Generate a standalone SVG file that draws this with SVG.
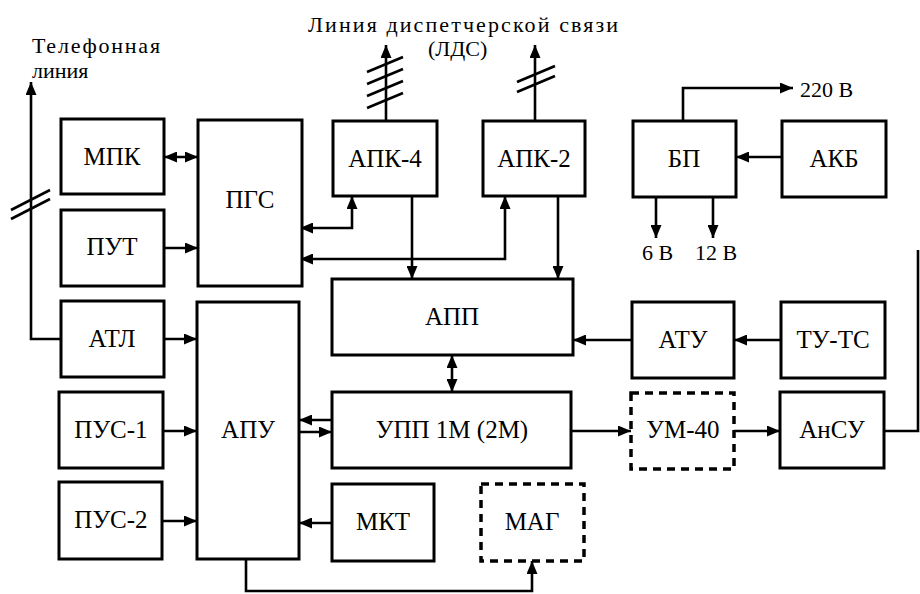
<svg xmlns="http://www.w3.org/2000/svg" width="920" height="594" viewBox="0 0 920 594">
<defs>
<marker id="ah" viewBox="0 0 13 11" refX="13" refY="5.5" markerWidth="13" markerHeight="11" orient="auto-start-reverse" markerUnits="userSpaceOnUse"><path d="M0,0 L13,5.5 L0,11 z" fill="#000"/></marker>
</defs>
<rect width="920" height="594" fill="#fff"/>

<g id="labels">
<text x="32" y="53" font-size="22" font-family="Liberation Serif" textLength="128">Телефонная</text>
<text x="32" y="78" font-size="22" font-family="Liberation Serif">линия</text>
<text x="308" y="32" font-size="22" font-family="Liberation Serif" textLength="310">Линия диспетчерской связи</text>
<text x="428" y="56" font-size="22" font-family="Liberation Serif">(ЛДС)</text>
<text x="800" y="97" font-size="22" font-family="Liberation Serif">220 В</text>
<text x="642" y="260" font-size="22" font-family="Liberation Serif">6 В</text>
<text x="695" y="260" font-size="22" font-family="Liberation Serif">12 В</text>
</g>

<g id="connectors" fill="none" stroke="#000" stroke-width="2.6">
<polyline points="61,339 31,339 31,82" marker-end="url(#ah)"/>
<line x1="11" y1="210" x2="50" y2="190"/>
<line x1="11" y1="219" x2="50" y2="199"/>
<line x1="164" y1="157" x2="198" y2="157" marker-start="url(#ah)" marker-end="url(#ah)"/>
<line x1="164" y1="248" x2="198" y2="248" marker-end="url(#ah)"/>
<line x1="164" y1="339" x2="197" y2="339" marker-end="url(#ah)"/>
<line x1="163" y1="431" x2="197" y2="431" marker-end="url(#ah)"/>
<line x1="162" y1="521" x2="197" y2="521" marker-end="url(#ah)"/>
<line x1="386" y1="121" x2="386" y2="45" marker-end="url(#ah)"/>
<line x1="367" y1="72" x2="403" y2="57"/>
<line x1="367" y1="84" x2="403" y2="69"/>
<line x1="367" y1="96" x2="403" y2="81"/>
<line x1="367" y1="108" x2="403" y2="93"/>
<line x1="535" y1="121" x2="535" y2="45" marker-end="url(#ah)"/>
<line x1="517" y1="82" x2="555" y2="66"/>
<line x1="517" y1="92" x2="555" y2="76"/>
<polyline points="300,228 352,228 352,196" marker-start="url(#ah)" marker-end="url(#ah)"/>
<polyline points="300,259 505,259 505,196" marker-start="url(#ah)" marker-end="url(#ah)"/>
<line x1="412" y1="196" x2="412" y2="279" marker-end="url(#ah)"/>
<line x1="558" y1="196" x2="558" y2="279" marker-end="url(#ah)"/>
<line x1="452" y1="355" x2="452" y2="392" marker-start="url(#ah)" marker-end="url(#ah)"/>
<line x1="632" y1="340" x2="573" y2="340" marker-end="url(#ah)"/>
<line x1="781" y1="340" x2="734" y2="340" marker-end="url(#ah)"/>
<line x1="782" y1="157" x2="736" y2="157" marker-end="url(#ah)"/>
<polyline points="683,121 683,88 793,88" marker-end="url(#ah)"/>
<line x1="656" y1="197" x2="656" y2="238" marker-end="url(#ah)"/>
<line x1="713" y1="197" x2="713" y2="238" marker-end="url(#ah)"/>
<line x1="571" y1="431" x2="631" y2="431" marker-end="url(#ah)"/>
<line x1="734" y1="431" x2="780" y2="431" marker-end="url(#ah)"/>
<polyline points="884,431 918,431 918,250"/>
<line x1="332" y1="420" x2="299" y2="420" marker-end="url(#ah)"/>
<line x1="299" y1="432" x2="332" y2="432" marker-end="url(#ah)"/>
<line x1="332" y1="523" x2="299" y2="523" marker-end="url(#ah)"/>
<polyline points="246,559 246,591 532,591 532,561" marker-end="url(#ah)"/>
</g>

<g id="nodes" text-anchor="middle" font-size="25" font-family="Liberation Serif">
<g id="solid" fill="#fff" stroke="#000" stroke-width="3">
<rect x="61" y="119" width="103" height="75"/>
<rect x="198" y="120" width="104" height="166"/>
<rect x="61" y="210" width="103" height="76"/>
<rect x="61" y="301" width="103" height="76"/>
<rect x="197" y="302" width="102" height="257"/>
<rect x="59" y="392" width="104" height="76"/>
<rect x="59" y="482" width="103" height="77"/>
<rect x="333" y="121" width="104" height="75"/>
<rect x="483" y="121" width="102" height="75"/>
<rect x="633" y="121" width="103" height="76"/>
<rect x="782" y="121" width="104" height="76"/>
<rect x="332" y="279" width="241" height="76"/>
<rect x="632" y="302" width="102" height="76"/>
<rect x="781" y="302" width="104" height="76"/>
<rect x="332" y="392" width="239" height="76"/>
<rect x="780" y="392" width="104" height="76"/>
<rect x="332" y="484" width="102" height="77"/>
</g>
<g id="dashed" fill="#fff" stroke="#000" stroke-width="3.5" stroke-dasharray="8 6">
<rect x="631" y="393" width="103" height="76"/>
<rect x="481" y="484" width="103" height="77"/>
</g>
<g id="mpk"><text x="112" y="165" font-size="25" font-family="Liberation Serif">МПК</text></g>
<g id="pgs"><text x="250" y="208" font-size="25" font-family="Liberation Serif">ПГС</text></g>
<g id="put"><text x="112" y="255" font-size="25" font-family="Liberation Serif">ПУТ</text></g>
<g id="atl"><text x="112" y="347" font-size="25" font-family="Liberation Serif">АТЛ</text></g>
<g id="apu"><text x="248" y="438" font-size="25" font-family="Liberation Serif">АПУ</text></g>
<g id="pus1"><text x="111" y="438" font-size="25" font-family="Liberation Serif">ПУС-1</text></g>
<g id="pus2"><text x="111" y="528" font-size="25" font-family="Liberation Serif">ПУС-2</text></g>
<g id="apk4"><text x="385" y="167" font-size="25" font-family="Liberation Serif">АПК-4</text></g>
<g id="apk2"><text x="534" y="167" font-size="25" font-family="Liberation Serif">АПК-2</text></g>
<g id="bp"><text x="684" y="167" font-size="25" font-family="Liberation Serif">БП</text></g>
<g id="akb"><text x="834" y="167" font-size="25" font-family="Liberation Serif">АКБ</text></g>
<g id="app"><text x="452" y="325" font-size="25" font-family="Liberation Serif">АПП</text></g>
<g id="atu"><text x="683" y="348" font-size="25" font-family="Liberation Serif">АТУ</text></g>
<g id="tuts"><text x="833" y="348" font-size="25" font-family="Liberation Serif">ТУ-ТС</text></g>
<g id="upp"><text x="452" y="438" font-size="25" font-family="Liberation Serif">УПП 1М (2М)</text></g>
<g id="um40"><text x="683" y="438" font-size="25" font-family="Liberation Serif">УМ-40</text></g>
<g id="ansu"><text x="832" y="438" font-size="25" font-family="Liberation Serif">АнСУ</text></g>
<g id="mkt"><text x="383" y="530" font-size="25" font-family="Liberation Serif">МКТ</text></g>
<g id="mag"><text x="532" y="530" font-size="25" font-family="Liberation Serif">МАГ</text></g>
</g>
</svg>
